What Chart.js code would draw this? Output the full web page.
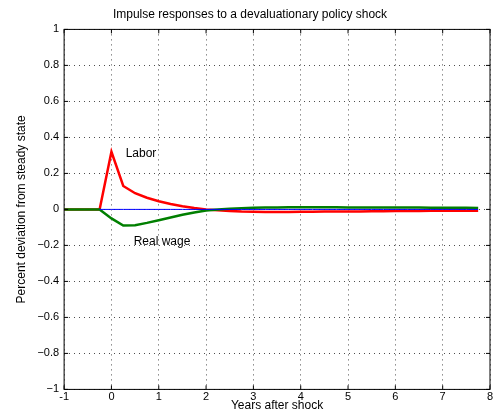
<!DOCTYPE html>
<html><head><script src="https://cdn.jsdelivr.net/npm/chart.js@4"></script>
<style>body{margin:0;background:#fff}#w{width:504px;height:416px}</style></head>
<body><div id="w"><canvas id="c"></canvas></div>
<script>
const years=[-1,-0.75,-0.5,-0.25,0,0.25,0.5,0.75,1,1.25,1.5,1.75,2,2.25,2.5,2.75,3,3.25,3.5,3.75,4,4.25,4.5,4.75,5,5.25,5.5,5.75,6,6.25,6.5,6.75,7,7.25,7.5,7.75];
const labor=[0,0,0,0,0.32,0.13,0.09,0.065,0.045,0.03,0.018,0.008,0,-0.005,-0.009,-0.012,-0.013,-0.014,-0.014,-0.014,-0.013,-0.013,-0.012,-0.012,-0.011,-0.011,-0.01,-0.01,-0.009,-0.009,-0.009,-0.008,-0.008,-0.008,-0.008,-0.008];
const wage=[0,0,0,0,-0.05,-0.09,-0.088,-0.075,-0.06,-0.045,-0.03,-0.017,-0.006,0,0.004,0.007,0.009,0.01,0.011,0.012,0.012,0.012,0.012,0.012,0.011,0.011,0.011,0.01,0.01,0.01,0.01,0.009,0.009,0.009,0.009,0.008];
const xTicks=[-1,0,1,2,3,4,5,6,7,8];
const yTicks=[-1,-0.8,-0.6,-0.4,-0.2,0,0.2,0.4,0.6,0.8,1];
const notes=[{t:'Labor',x:0.3,y:0.31},{t:'Real wage',x:0.47,y:-0.18}];
const pts=a=>years.map((x,i)=>({x,y:a[i]}));
const F='"Liberation Sans",Arial,sans-serif';
const grid={color:'#000',lineWidth:0.7,drawTicks:false};
const border={display:false,dash:[1,4]};
const box={id:'box',afterDraw(c){const a=c.chartArea,x=c.ctx;x.save();x.strokeStyle='#000';x.lineWidth=1;x.strokeRect(a.left,a.top,a.right-a.left,a.bottom-a.top);
x.font='12px '+F;x.fillStyle='#000';x.textBaseline='middle';notes.forEach(n=>x.fillText(n.t,c.scales.x.getPixelForValue(n.x),c.scales.y.getPixelForValue(n.y)));
xTicks.forEach(v=>{const p=c.scales.x.getPixelForValue(v);x.beginPath();x.moveTo(p,a.bottom);x.lineTo(p,a.bottom-4);x.moveTo(p,a.top);x.lineTo(p,a.top+4);x.stroke();});
yTicks.forEach(v=>{const p=c.scales.y.getPixelForValue(v);x.beginPath();x.moveTo(a.left,p);x.lineTo(a.left+4,p);x.moveTo(a.right,p);x.lineTo(a.right-4,p);x.stroke();});
x.restore();}};
new Chart(document.getElementById('c'),{type:'line',
data:{datasets:[
{data:years.slice(3).map(x=>({x,y:0})),borderColor:'#0000ff',borderWidth:1,pointRadius:0},
{data:pts(wage),borderColor:'#007f00',borderWidth:2.5,pointRadius:0},
{data:pts(labor),borderColor:'#ff0000',borderWidth:2.5,pointRadius:0}]},
options:{responsive:true,maintainAspectRatio:false,animation:false,
layout:{padding:{top:5,right:14,left:10,bottom:3}},
plugins:{legend:{display:false},tooltip:{enabled:false},
title:{display:true,text:'Impulse responses to a devaluationary policy shock',color:'#000',font:{family:F,size:12,weight:'normal'},padding:{top:2,bottom:8}}},
scales:{
x:{type:'linear',min:-1,max:8,afterBuildTicks:s=>{s.ticks=xTicks.map(v=>({value:v}))},grid,border,
ticks:{color:'#000',font:{family:F,size:11},padding:1},title:{display:true,text:'Years after shock',color:'#000',font:{family:F,size:12},padding:{top:-6,bottom:0}}},
y:{min:-1,max:1,afterBuildTicks:s=>{s.ticks=yTicks.map(v=>({value:v}))},grid,border,
ticks:{color:'#000',font:{family:F,size:11},padding:5,callback:v=>v<0?'\u2212'+Math.abs(+v.toFixed(1)):String(+v.toFixed(1))},
title:{display:true,text:'Percent deviation from steady state',color:'#000',font:{family:F,size:12},padding:{bottom:4}}}}},
plugins:[box]});
</script></body></html>
